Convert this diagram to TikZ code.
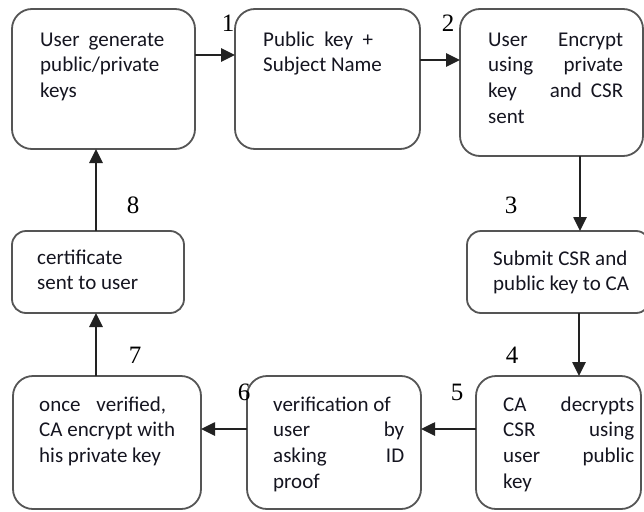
\documentclass[tikz,border=0pt]{standalone}
\usepackage{fontspec}
\setmainfont{Carlito}
\newfontfamily\numfont{Liberation Serif}
\usetikzlibrary{arrows.meta}
\definecolor{boxgray}{HTML}{555555}
\definecolor{arrcol}{HTML}{222222}
\definecolor{txtcol}{HTML}{151520}
\hbadness=10000
\hfuzz=100pt
\begin{document}
\begin{tikzpicture}[x=1pt,y=-1pt,
 box/.style={draw=boxgray, line width=1.8pt, rounded corners=20pt, fill=white, inner sep=0pt, outer sep=0pt},
 smallbox/.style={box, rounded corners=14pt},
 txt/.style={anchor=base west, inner sep=0pt, font=\fontsize{21}{25.7}\selectfont, text=txtcol},
 num/.style={inner sep=0pt, text=black, font=\numfont\fontsize{25}{25}\selectfont},
 arr/.style={draw=arrcol, line width=2.6pt, -{Triangle[length=14pt,width=13pt]}}]
\useasboundingbox (0,0) rectangle (644,511);
\clip (0,0) rectangle (644,511);
\fill[white] (0,0) rectangle (644,511);
% boxes
\node[box, minimum width=183pt, minimum height=140pt] (A) at (103.5,79) {};
\node[box, minimum width=185pt, minimum height=140pt] (B) at (327.5,79) {};
\node[box, minimum width=183pt, minimum height=147pt] (C) at (551.5,82.5) {};
\node[smallbox, minimum width=183pt, minimum height=82pt] (D) at (558.5,272) {};
\node[smallbox, minimum width=172pt, minimum height=82pt] (H) at (98,272) {};
\node[box, minimum width=188pt, minimum height=133pt] (G) at (107,442.5) {};
\node[box, minimum width=174pt, minimum height=133pt] (F) at (334,442.5) {};
\node[box, minimum width=165pt, minimum height=133pt] (E) at (558.5,442.5) {};
% texts
\node[txt] (tA) at (40,46) {\vtop{\hbox to 124pt{User generate}\hbox{public/private}\hbox{keys}}};
\node[txt] (tB) at (263,46) {\vtop{\hbox to 110pt{Public key +}\hbox{Subject Name}}};
\node[txt] (tC) at (488,46) {\vtop{\hbox to 135pt{User\hfill Encrypt}\hbox to 135pt{using\hfill private}\hbox to 135pt{key\hfill and\hskip 9pt CSR}\hbox{sent}}};
\node[txt] (tD) at (493,265) {\vtop{\hbox{Submit CSR and}\hbox{public key to CA}}};
\node[txt] (tH) at (37,264) {\vtop{\hbox{certificate}\hbox{sent to user}}};
\node[txt] (tG) at (39,411) {\vtop{\hbox to 127pt{once\hfill verified,}\hbox{CA encrypt with}\hbox{his private key}}};
\node[txt] (tF) at (273,411) {\vtop{\hbox{verification of}\hbox to 131pt{user\hfill by}\hbox to 131pt{asking\hfill ID}\hbox{proof}}};
\node[txt] (tE) at (503,411) {\vtop{\hbox to 131pt{CA\hfill decrypts}\hbox to 131pt{CSR\hfill using}\hbox to 131pt{user\hfill public}\hbox{key}}};
% numbers
\node[num] (n1) at (228,23) {1};
\node[num] (n2) at (448,23) {2};
\node[num] (n3) at (511,205) {3};
\node[num] (n8) at (133,205) {8};
\node[num] (n7) at (135,355) {7};
\node[num] (n4) at (512,355) {4};
\node[num] (n5) at (457,392) {5};
\node[num] (n6) at (244,392) {6};
% connectors
\draw[arr] (A.east |- 0,55) -- (B.west |- 0,55);
\draw[arr] (B.east |- 0,60) -- (C.west |- 0,60);
\draw[arr] (C.south -| 580,0) -- (D.north -| 580,0);
\draw[arr] (D.south -| 579,0) -- (E.north -| 579,0);
\draw[arr] (E.west |- 0,429) -- (F.east |- 0,429);
\draw[arr] (F.west |- 0,429) -- (G.east |- 0,429);
\draw[arr] (G.north -| 96,0) -- (H.south -| 96,0);
\draw[arr] (H.north -| 96,0) -- (A.south -| 96,0);
\end{tikzpicture}
\end{document}
